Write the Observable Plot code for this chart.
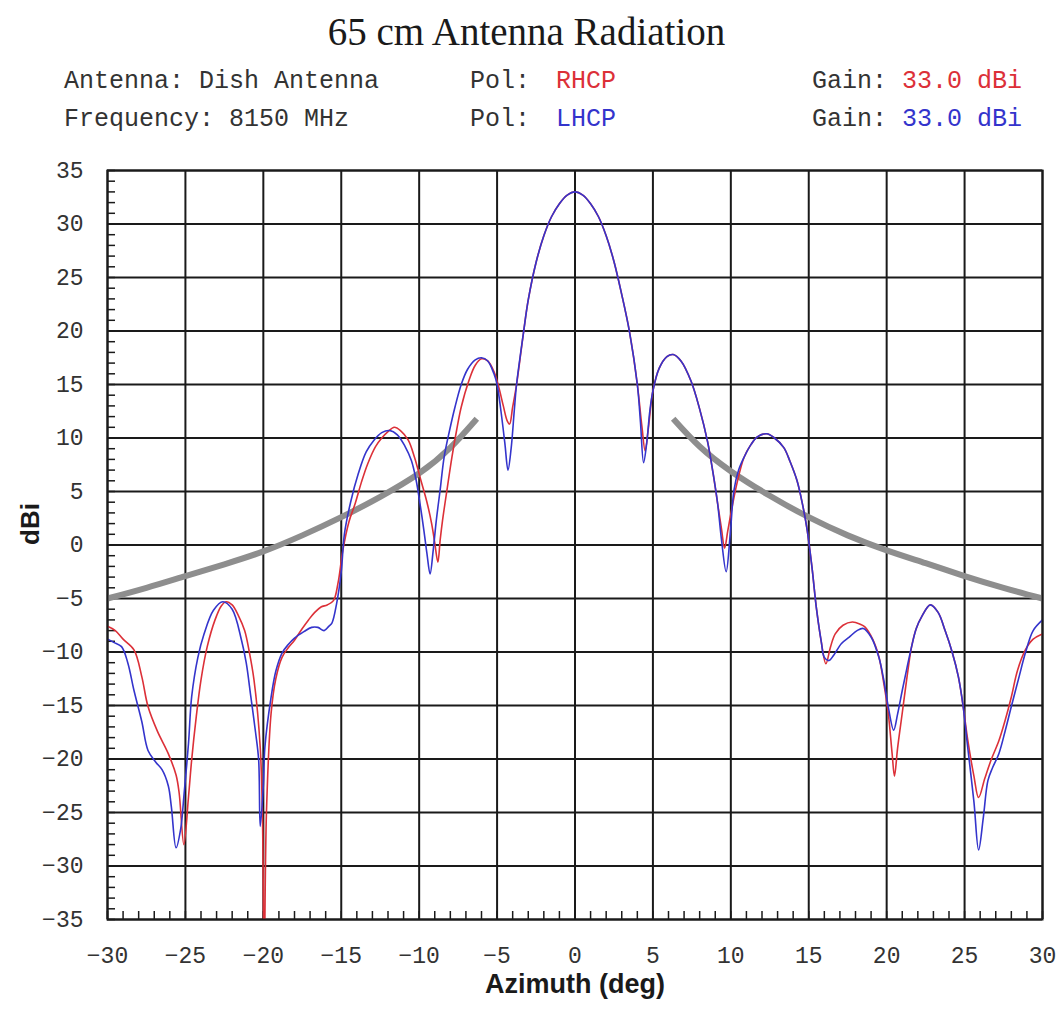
<!DOCTYPE html>
<html>
<head>
<meta charset="utf-8">
<script src="https://cdn.jsdelivr.net/npm/d3@7"></script>
<script src="https://cdn.jsdelivr.net/npm/@observablehq/plot@0.6"></script>
<style>
  html, body { margin: 0; padding: 0; background: #fff; }
  #wrap { position: relative; width: 1061px; height: 1009px; overflow: hidden; background: #fff; }
  #head { position: relative; width: 1061px; height: 150px; }
  .t { position: absolute; white-space: pre; line-height: 1; }
  .title { font-family: "Liberation Serif", serif; font-size: 39px; color: #1a1a1a; left: 0; width: 1053px; text-align: center; top: 12px; }
  .m { font-family: "Liberation Mono", monospace; font-size: 25px; color: #333; }
</style>
</head>
<body>
<div id="wrap">
  <div id="head"></div>
  <div id="chart"></div>
</div>
<script>
// ---- Data ----
const title = "65 cm Antenna Radiation";
const infoAntenna = "Antenna: Dish Antenna";
const infoFrequency = "Frequency: 8150 MHz";
const polLabels = ["RHCP", "LHCP"];
const gainLabels = ["33.0 dBi", "33.0 dBi"];

const xTicks = [-30, -25, -20, -15, -10, -5, 0, 5, 10, 15, 20, 25, 30];
const yTicks = [-35, -30, -25, -20, -15, -10, -5, 0, 5, 10, 15, 20, 25, 30, 35];
const xMinor = d3.range(-30, 31, 1);
const yMinor = d3.range(-35, 36, 1);

// RHCP (red) azimuth (deg) and gain (dBi)
const rhcpAz = [-30, -29.5, -29, -28.3, -27.8, -27.4, -26.8, -26.1, -25.6, -25.4, -25.1, -24.8, -24.6, -24.3, -24, -23.6, -23.1, -22.7, -22.4, -22, -21.6, -21.2, -20.9, -20.6, -20.2, -20.05, -19.95, -19.8, -19.5, -19.2, -18.8, -18.4, -18, -17.5, -17.1, -16.7, -16.3, -15.9, -15.5, -15.2, -14.9, -14.5, -14.1, -13.7, -13.3, -12.8, -12.4, -12, -11.6, -11.2, -10.7, -10.3, -9.9, -9.5, -9.2, -9, -8.8, -8.65, -8.5, -8.2, -7.9, -7.6, -7.3, -6.8, -6.4, -6, -5.6, -5.2, -4.9, -4.6, -4.35, -4.2, -4, -3.75, -3.3, -3, -2.5, -2, -1.5, -1, -0.5, 0, 0.5, 1, 1.5, 2, 2.5, 3, 3.5, 4, 4.3, 4.5, 4.7, 5, 5.4, 5.9, 6.3, 6.8, 7.45, 8, 8.5, 8.85, 9.15, 9.4, 9.6, 9.8, 10, 10.4, 10.85, 11.3, 11.7, 12.3, 12.8, 13.4, 13.8, 14.25, 14.6, 14.9, 15.2, 15.5, 15.8, 16.1, 16.4, 16.7, 17.2, 17.8, 18.3, 18.6, 19.1, 19.5, 19.8, 20.1, 20.35, 20.5, 20.7, 21, 21.3, 21.6, 21.9, 22.25, 22.8, 23.3, 23.75, 24.2, 24.6, 24.9, 25.2, 25.6, 25.9, 26.3, 26.7, 27.2, 27.6, 28, 28.4, 28.9, 29.4, 30];
const rhcpDb = [-7.6, -8.0, -8.8, -9.8, -12.3, -15.1, -17.4, -19.5, -21.5, -23.2, -28.0, -23.5, -20.1, -16.0, -12.6, -9.5, -7.0, -5.7, -5.3, -5.6, -6.6, -8.0, -10.0, -12.6, -18.9, -26, -40, -25, -15.7, -12.5, -10.5, -9.6, -8.9, -7.8, -7.0, -6.3, -5.8, -5.6, -5.2, -3.5, -0.5, 2.2, 3.9, 5.9, 7.6, 9.2, 10.0, 10.6, 11.0, 10.7, 9.8, 8.2, 6.1, 4.0, 2.0, 0.2, -1.6, 0.5, 2.3, 5.3, 8.2, 10.7, 12.9, 15.4, 16.8, 17.4, 17.2, 16.2, 14.8, 13.0, 11.6, 11.3, 12.9, 15.0, 19.9, 22.9, 26.4, 28.9, 30.7, 31.9, 32.7, 33.0, 32.7, 31.9, 30.7, 28.9, 26.5, 23.4, 19.9, 15.0, 11.0, 8.8, 10.8, 14.4, 16.5, 17.6, 17.8, 17.2, 15.3, 12.7, 9.7, 6.8, 3.9, 1.5, -0.3, 1.3, 2.9, 5.8, 8.2, 9.4, 10.1, 10.4, 10.0, 9.1, 7.8, 6.0, 3.8, 1.4, -2.0, -6.0, -9.0, -11.1, -9.5, -8.3, -7.5, -7.2, -7.4, -7.65, -8.8, -10.45, -12.8, -15.7, -19.5, -21.6, -19.0, -15.7, -12.4, -9.5, -7.8, -6.7, -5.6, -6.3, -8.0, -10.0, -12.3, -15.0, -18.2, -21.6, -23.6, -21.8, -20.1, -18.3, -16.4, -14.2, -11.7, -9.8, -8.8, -8.3];

// LHCP (blue) azimuth (deg) and gain (dBi)
const lhcpAz = [-30, -29.6, -29.1, -28.7, -28.3, -27.8, -27.4, -26.9, -26.5, -26.1, -25.9, -25.6, -25.3, -25.1, -24.8, -24.6, -24.2, -23.8, -23.2, -22.6, -22, -21.4, -21.1, -20.8, -20.5, -20.3, -20.2, -20, -19.9, -19.5, -19.2, -18.8, -18.4, -18, -17.4, -16.9, -16.5, -16.1, -15.8, -15.6, -15.3, -15, -14.8, -14.4, -13.9, -13.4, -12.9, -12.4, -11.9, -11.4, -10.9, -10.5, -10.2, -9.95, -9.7, -9.5, -9.3, -9.1, -8.9, -8.65, -8.4, -8.05, -7.7, -7.3, -6.9, -6.4, -6, -5.6, -5.2, -5, -4.75, -4.5, -4.3, -4.1, -3.9, -3.75, -3.3, -3, -2.5, -2, -1.5, -1, -0.5, 0, 0.5, 1, 1.5, 2, 2.5, 3, 3.5, 4, 4.2, 4.4, 4.6, 4.8, 5, 5.4, 5.9, 6.3, 6.8, 7.45, 8, 8.5, 8.85, 9.15, 9.4, 9.7, 9.95, 10.2, 10.5, 10.85, 11.3, 11.7, 12.3, 12.8, 13.4, 13.8, 14.25, 14.6, 14.9, 15.2, 15.5, 15.8, 16, 16.3, 16.6, 17.1, 17.6, 18.1, 18.5, 19, 19.5, 19.8, 20.1, 20.45, 20.7, 21, 21.3, 21.6, 21.9, 22.25, 22.8, 23.3, 23.75, 24.2, 24.6, 24.9, 25.2, 25.6, 25.9, 26.2, 26.5, 26.8, 27.2, 27.6, 28, 28.5, 28.9, 29.4, 30];
const lhcpDb = [-8.8, -9.1, -9.5, -11.0, -13.6, -16.5, -19.2, -20.3, -21.0, -22.5, -24.5, -28.3, -26.5, -23.5, -18.5, -14.2, -10.5, -8.3, -6.1, -5.3, -6.0, -8.9, -11.0, -14.2, -17.5, -20.1, -26.3, -22.5, -18.9, -14.2, -11.8, -10.1, -9.3, -8.7, -8.1, -7.7, -7.7, -8.0, -7.6, -7.3, -5.5, -2.5, 1.0, 4.0, 6.7, 8.7, 9.8, 10.5, 10.7, 10.3, 9.2, 7.9, 6.1, 3.9, 1.4, -0.8, -2.7, -0.5, 2.3, 5.2, 8.2, 10.7, 12.9, 15.0, 16.4, 17.3, 17.5, 17.2, 16.0, 15.0, 12.5, 9.5, 7.0, 9.0, 12.5, 15.0, 19.9, 22.9, 26.4, 28.9, 30.7, 31.9, 32.7, 33.0, 32.7, 31.9, 30.7, 28.9, 26.5, 23.4, 19.9, 15.0, 11.5, 7.7, 9.5, 12.5, 14.4, 16.5, 17.6, 17.8, 17.2, 15.3, 12.7, 9.7, 6.8, 3.9, 0.5, -2.5, 0.8, 5.1, 7.0, 8.2, 9.4, 10.1, 10.4, 10.0, 9.1, 7.8, 6.0, 3.8, 1.4, -2.0, -6.0, -9.0, -10.5, -10.8, -10.3, -9.2, -8.6, -8.0, -7.8, -8.6, -10.5, -12.5, -15.1, -17.3, -15.8, -13.6, -11.5, -9.5, -7.8, -6.7, -5.6, -6.3, -8.0, -10.0, -12.3, -15.0, -18.9, -24.0, -28.5, -25.5, -22.0, -20.8, -19.5, -17.4, -15.1, -12.3, -10.1, -8.0, -7.0];

// Gray sidelobe envelope (two branches)
const envLeftAz = [-30, -27.5, -25, -22.5, -20, -17.5, -15, -12.5, -10, -8, -6.3];
const envLeftDb = [-5.0, -4.0, -2.9, -1.8, -0.6, 0.9, 2.6, 4.5, 6.7, 9.1, 11.8];
const envRightAz = [6.3, 8, 10, 12.5, 15, 17.5, 20, 22.5, 25, 27.5, 30];
const envRightDb = [11.8, 9.2, 6.9, 4.6, 2.6, 0.9, -0.5, -1.7, -2.9, -4.0, -5.0];

const xLabel = "Azimuth (deg)";
const yLabel = "dBi";

// ---- Header (title + info block) ----
const head = document.getElementById("head");
function addText(txt, cls, style) {
  const d = document.createElement("div");
  d.className = "t " + cls;
  d.textContent = txt;
  Object.assign(d.style, style || {});
  head.appendChild(d);
  return d;
}
const red = "#dc3038";
const blue = "#3434cc";
addText(title, "title");
const row1 = 69, row2 = 107;
addText(infoAntenna, "m", {left: "64px", top: row1 + "px"});
addText(infoFrequency, "m", {left: "64px", top: row2 + "px"});
addText("Pol:", "m", {left: "470px", top: row1 + "px"});
addText("Pol:", "m", {left: "470px", top: row2 + "px"});
addText(polLabels[0], "m", {left: "556px", top: row1 + "px", color: red});
addText(polLabels[1], "m", {left: "556px", top: row2 + "px", color: blue});
addText("Gain:", "m", {left: "812px", top: row1 + "px"});
addText("Gain:", "m", {left: "812px", top: row2 + "px"});
addText(gainLabels[0], "m", {left: "902px", top: row1 + "px", color: red});
addText(gainLabels[1], "m", {left: "902px", top: row2 + "px", color: blue});

// ---- Chart ----
const rhcp = rhcpAz.map((a, i) => ({az: a, db: rhcpDb[i]}));
const lhcp = lhcpAz.map((a, i) => ({az: a, db: lhcpDb[i]}));
const env = [
  ...envLeftAz.map((a, i) => ({az: a, db: envLeftDb[i], side: "L"})),
  ...envRightAz.map((a, i) => ({az: a, db: envRightDb[i], side: "R"}))
];

const W = 1061, H = 859;
const mTop = 20, mBottom = 90, mLeft = 107, mRight = 19;
const innerH = H - mTop - mBottom;
const innerW = W - mLeft - mRight;
const gridColor = "#1a1a1a";
const tickFont = "Liberation Mono, monospace";

const chart = Plot.plot({
  width: W,
  height: H,
  marginTop: mTop,
  marginBottom: mBottom,
  marginLeft: mLeft,
  marginRight: mRight,
  style: {background: "#fff", color: "#333", fontFamily: tickFont, fontSize: "23px"},
  x: {domain: [-30, 30]},
  y: {domain: [-35, 35]},
  marks: [
    Plot.gridX(xTicks, {stroke: gridColor, strokeOpacity: 1, strokeWidth: 2}),
    Plot.gridY(yTicks, {stroke: gridColor, strokeOpacity: 1, strokeWidth: 2}),
    Plot.ruleX(xMinor, {insetTop: innerH - 8, stroke: gridColor, strokeWidth: 1.5}),
    Plot.ruleY(yMinor, {insetRight: innerW - 8, stroke: gridColor, strokeWidth: 1.5}),
    Plot.axisX(xTicks, {tickSize: 0, tickPadding: 27, label: null, fontSize: 23, fontFamily: tickFont, fill: "#333"}),
    Plot.axisY(yTicks, {tickSize: 0, tickPadding: 24, label: null, fontSize: 23, fontFamily: tickFont, fill: "#333"}),
    Plot.line(env, {x: "az", y: "db", z: "side", stroke: "#8e8e8e", strokeWidth: 6, strokeLinecap: "butt", curve: "natural"}),
    Plot.line(rhcp, {x: "az", y: "db", stroke: red, strokeWidth: 1.6, curve: "catmull-rom", clip: true}),
    Plot.line(lhcp, {x: "az", y: "db", stroke: blue, strokeWidth: 1.6, curve: "catmull-rom", clip: true}),
    Plot.frame({stroke: gridColor, strokeWidth: 2}),
    Plot.text([xLabel], {frameAnchor: "bottom", dy: 73, fontSize: 27, fontWeight: "bold", fontFamily: "Liberation Sans, Arial, sans-serif", fill: "#1a1a1a"}),
    Plot.text([yLabel], {frameAnchor: "left", dx: -77, rotate: -90, fontSize: 26, fontWeight: "bold", fontFamily: "Liberation Sans, Arial, sans-serif", fill: "#1a1a1a"})
  ]
});
document.getElementById("chart").appendChild(chart);
</script>
</body>
</html>
